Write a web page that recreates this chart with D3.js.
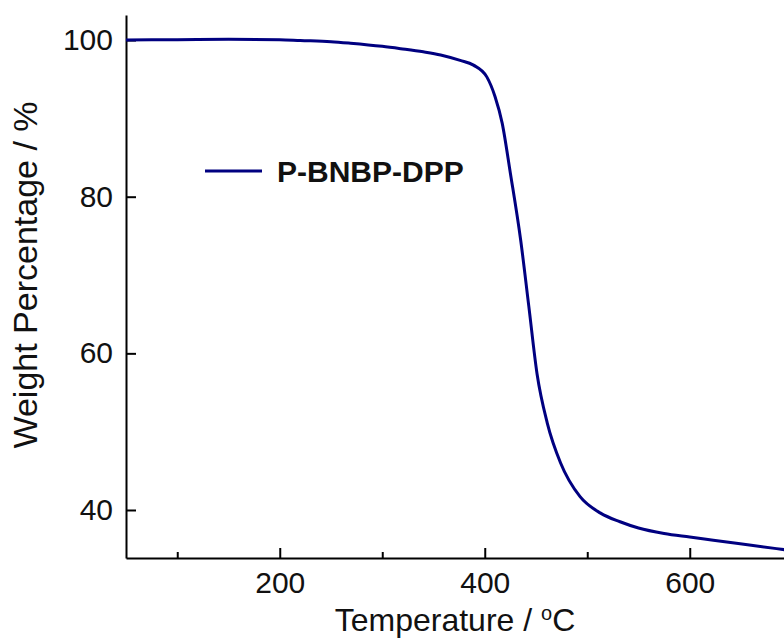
<!DOCTYPE html>
<html>
<head>
<meta charset="utf-8">
<script src="https://cdn.jsdelivr.net/npm/d3@7"></script>
<style>
  body { margin: 0; background: #fff; }
  text { font-family: "Liberation Sans", Arial, sans-serif; }
</style>
</head>
<body>
<div id="chart"></div>
<script>
// TGA curve
var temps   = [50, 100, 150, 200, 220, 250, 269, 300, 318, 340, 357, 376, 389, 402, 410, 417, 425, 435, 443, 451, 461, 474, 493, 513, 532, 550, 575, 600, 623, 660, 700];
var weights = [100, 100.05, 100.1, 100.05, 99.95, 99.8, 99.6, 99.2, 98.9, 98.5, 98.1, 97.4, 96.8, 95.3, 92.8, 89.4, 83.0, 74.5, 66.0, 57.4, 51.1, 46.0, 41.7, 39.6, 38.5, 37.7, 37.0, 36.55, 36.15, 35.5, 34.8];

var seriesName = "P-BNBP-DPP";
var xMajor = [200, 400, 600];
var xMinor = [100, 300, 500];
var yMajor = [40, 60, 80, 100];

var svgWidth = 784;
var svgHeight = 643;

var margin = {top: 15, left: 126};
var plotBottom = 558;

var svg = d3.select("#chart").append("svg")
    .attr("width", svgWidth)
    .attr("height", svgHeight);

// scales
var xScale = d3.scaleLinear()
    .domain([50, 700])
    .range([margin.left, margin.left + 650 * 1.025]);

var yScale = d3.scaleLinear()
    .domain([33.87, 103.2])
    .range([plotBottom, margin.top]);

// x axis - major ticks with labels, pointing in
var xAxis = d3.axisBottom(xScale)
    .tickValues(xMajor)
    .tickSizeInner(-10)
    .tickSizeOuter(0)
    .tickPadding(14);

var gx = svg.append("g")
    .attr("transform", `translate(0, ${plotBottom})`)
    .call(xAxis);

// minor x ticks
svg.append("g")
    .attr("transform", `translate(0, ${plotBottom})`)
    .call(d3.axisBottom(xScale).tickValues(xMinor).tickSizeInner(-6).tickSizeOuter(0).tickFormat(""))
    .select(".domain").remove();

var yAxis = d3.axisLeft(yScale)
    .tickValues(yMajor)
    .tickSizeInner(-10)
    .tickSizeOuter(0)
    .tickPadding(13);

var gy = svg.append("g")
    .attr("transform", `translate(${margin.left}, 0)`)
    .call(yAxis);

svg.selectAll(".domain, .tick line")
    .attr("stroke", "#000")
    .attr("stroke-width", 2);

svg.selectAll(".tick text")
    .style("font-size", "30px")
    .attr("fill", "#111");

// the curve
var points = temps.map((t, i) => [t, weights[i]]);

var line = d3.line()
    .x(d => xScale(d[0]))
    .y(d => yScale(d[1]))
    .curve(d3.curveMonotoneX);

svg.append("path")
    .datum(points)
    .attr("d", line)
    .attr("fill", "none")
    .attr("stroke", "#000080")
    .attr("stroke-width", 3);

// legend
svg.append("line")
    .attr("x1", 205).attr("x2", 262)
    .attr("y1", 171).attr("y2", 171)
    .attr("stroke", "#000080")
    .attr("stroke-width", 3);

svg.append("text")
    .attr("x", 277)
    .attr("y", 182)
    .style("font-size", "30px")
    .style("font-weight", "bold")
    .attr("fill", "#111")
    .text(seriesName);

// axis titles
var xLabel = svg.append("text")
    .attr("x", 455)
    .attr("y", 631)
    .attr("text-anchor", "middle")
    .style("font-size", "32px")
    .attr("fill", "#111");
xLabel.append("tspan").text("Temperature / ");
xLabel.append("tspan").attr("dy", -11).style("font-size", "20px").text("o");
xLabel.append("tspan").attr("dy", 11).text("C");

svg.append("text")
    .attr("transform", "rotate(-90)")
    .attr("x", -275)
    .attr("y", 37)
    .attr("text-anchor", "middle")
    .style("font-size", "34px")
    .attr("fill", "#111")
    .text("Weight Percentage / %");
</script>
</body>
</html>
